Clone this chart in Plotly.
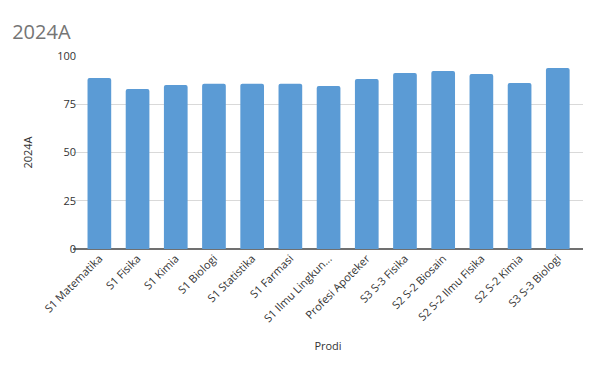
import plotly.graph_objects as go

categories = ["S1 Matematika", "S1 Fisika", "S1 Kimia", "S1 Biologi", "S1 Statistika",
              "S1 Farmasi", "S1 Ilmu Lingkun...", "Profesi Apoteker", "S3 S-3 Fisika",
              "S2 S-2 Biosain", "S2 S-2 Ilmu Fisika", "S2 S-2 Kimia", "S3 S-3 Biologi"]
values_2024A = [88.6, 82.9, 85.0, 85.6, 85.6, 85.6, 84.4, 88.1, 91.2, 92.2, 90.7, 86.0, 93.8]
y_ticks = [0, 25, 50, 75, 100]

font_family = "Open Sans, Liberation Sans, sans-serif"

fig = go.Figure(go.Bar(
    x=list(range(len(categories))),
    y=values_2024A,
    marker=dict(color="#5b9bd5", line=dict(width=0), cornerradius=2),
    width=0.62,
))

# page body has an 8px default margin, so the figure is sized/offset to compensate
fig.update_layout(
    width=594, height=364,
    margin=dict(l=65, r=19, t=48, b=123),
    paper_bgcolor="white", plot_bgcolor="white",
    showlegend=False,
    font=dict(family=font_family, size=11, color="#333333"),
    title=dict(text="2024A", x=0.007, xanchor="left", y=0.915, yanchor="bottom",
               font=dict(size=20, color="#757575", family=font_family)),
)
fig.update_xaxes(
    tickmode="array", tickvals=list(range(len(categories))), ticktext=categories,
    tickangle=-45, range=[-0.69, 12.66], showgrid=False, automargin=False,
    showline=False, zeroline=False, ticks="",
    tickfont=dict(size=11, color="#333333"),
    title=dict(text="Prodi", font=dict(size=11, color="#333333"), standoff=18),
)
fig.update_yaxes(
    range=[0, 100], tickvals=y_ticks, showgrid=True, gridcolor="#d9d9d9", gridwidth=1,
    zeroline=True, zerolinecolor="#707070", zerolinewidth=1.5, automargin=False,
    showline=False, ticks="", tickfont=dict(size=11, color="#333333"),
    ticklabelstandoff=-4,
    title=dict(text="2024A", font=dict(size=11, color="#333333"), standoff=22),
)

fig.write_html("out.html")
